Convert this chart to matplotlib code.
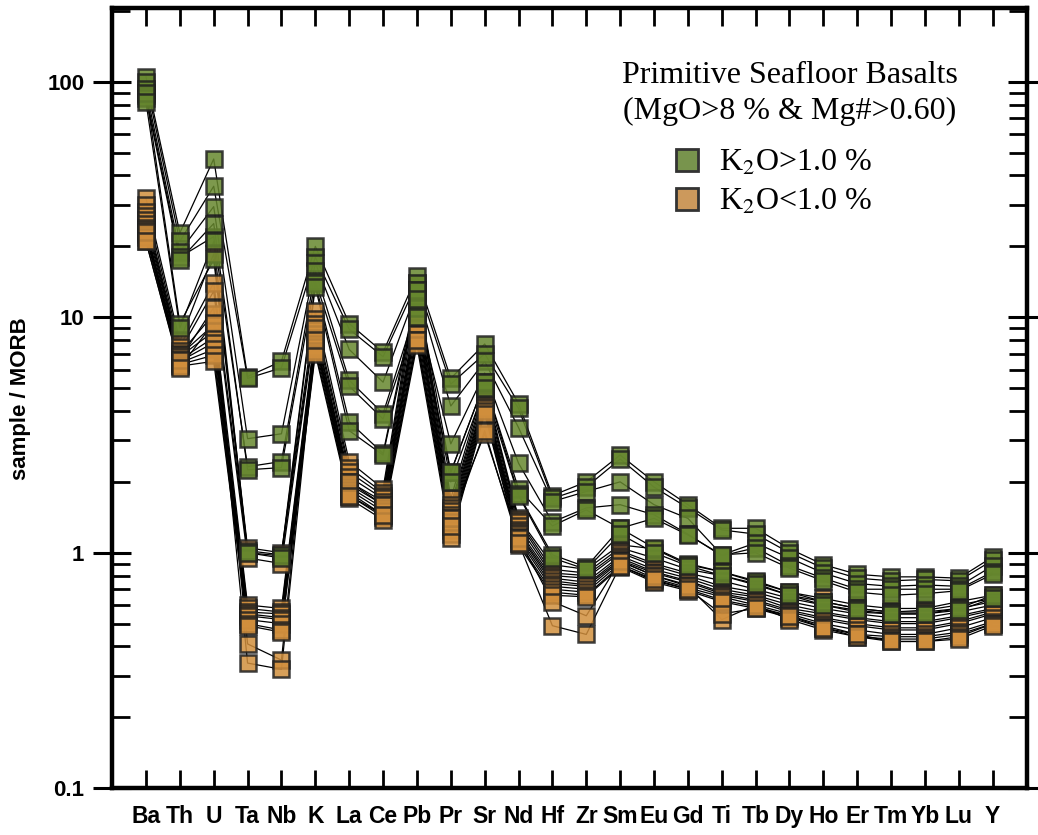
import matplotlib
matplotlib.use("Agg")
import matplotlib.pyplot as plt
from matplotlib.lines import Line2D
from matplotlib.ticker import LogLocator, NullFormatter, FixedLocator

plt.rcParams['mathtext.fontset'] = 'stix'

# element order for the spider diagram
elements = ["Ba", "Th", "U", "Ta", "Nb", "K", "La", "Ce", "Pb", "Pr", "Sr", "Nd", "Hf",
            "Zr", "Sm", "Eu", "Gd", "Ti", "Tb", "Dy", "Ho", "Er", "Tm", "Yb", "Lu", "Y"]

# K2O > 1.0 % samples (normalised to MORB)
high_k = [
    [105, 22.8, 47, 5.6, 6.5, 20, 9.4, 7.1, 15, 5.5, 7.7, 4.3, 1.75, 2.0, 2.6, 2.0, 1.6, 1.27, 1.27, 1.04, 0.89, 0.81, 0.79, 0.79, 0.78, 0.96],
    [100, 21, 36, 5.5, 6.1, 18, 8.9, 6.8, 14, 5.2, 7.0, 4.1, 1.7, 1.9, 2.5, 1.9, 1.55, 1.25, 1.2, 1.0, 0.86, 0.78, 0.76, 0.77, 0.76, 0.93],
    [93, 19, 29.5, 3.05, 3.2, 17, 7.3, 5.3, 13, 4.2, 6.5, 3.4, 1.65, 1.82, 2.0, 1.6, 1.4, 0.98, 1.1, 0.95, 0.82, 0.74, 0.72, 0.73, 0.72, 0.88],
    [88, 18, 22, 2.32, 2.44, 15.7, 5.4, 3.9, 11, 2.9, 5.8, 2.4, 1.35, 1.55, 1.6, 1.45, 1.2, 0.97, 1.05, 0.88, 0.78, 0.70, 0.70, 0.70, 0.70, 0.83],
    [85, 17.5, 25, 2.25, 2.3, 14.3, 5.1, 3.7, 10, 2.2, 5.3, 1.87, 1.3, 1.52, 1.27, 1.4, 1.19, 0.98, 1.0, 0.86, 0.76, 0.68, 0.66, 0.67, 0.69, 0.81],
    [90, 9.4, 17.6, 1.02, 0.98, 14, 3.6, 2.64, 13, 2.2, 5.3, 1.77, 0.98, 0.87, 1.27, 1.05, 0.9, 0.83, 0.76, 0.68, 0.62, 0.58, 0.56, 0.56, 0.58, 0.66],
    [82, 9.0, 21, 1.0, 0.95, 13.5, 3.3, 2.6, 12, 2.0, 5.0, 1.75, 0.95, 0.85, 1.2, 1.0, 0.88, 0.8, 0.74, 0.66, 0.6, 0.57, 0.55, 0.55, 0.57, 0.64],
]

# K2O < 1.0 % samples (normalised to MORB)
low_k = [
    [32, 7.9, 18.6, 1.05, 1.0, 10.6, 2.44, 1.87, 14, 1.7, 5.2, 1.4, 0.89, 0.85, 1.08, 1.04, 0.89, 0.83, 0.75, 0.68, 0.64, 0.60, 0.58, 0.58, 0.62, 0.66],
    [30, 7.5, 14, 1.0, 0.97, 9.8, 2.3, 1.8, 13, 1.6, 5.0, 1.38, 0.85, 0.82, 1.05, 0.95, 0.85, 0.80, 0.73, 0.66, 0.62, 0.58, 0.56, 0.57, 0.60, 0.64],
    [28, 7.2, 12.9, 0.95, 0.9, 9.4, 2.2, 1.75, 12, 1.55, 4.8, 1.35, 0.82, 0.80, 1.02, 0.9, 0.82, 0.76, 0.70, 0.64, 0.60, 0.56, 0.55, 0.55, 0.58, 0.62],
    [27, 7.0, 10.3, 0.6, 0.58, 8.8, 2.1, 1.7, 11, 1.5, 4.6, 1.3, 0.8, 0.78, 1.0, 0.88, 0.8, 0.72, 0.68, 0.62, 0.58, 0.55, 0.53, 0.53, 0.56, 0.60],
    [26, 6.9, 9.3, 0.58, 0.56, 8.5, 2.0, 1.65, 10.5, 1.45, 4.5, 1.25, 0.78, 0.75, 0.97, 0.85, 0.78, 0.70, 0.66, 0.60, 0.56, 0.53, 0.51, 0.51, 0.54, 0.58],
    [25, 6.8, 8.7, 0.56, 0.55, 8.2, 1.95, 1.6, 10, 1.4, 4.4, 1.22, 0.76, 0.73, 0.95, 0.83, 0.76, 0.68, 0.65, 0.58, 0.55, 0.52, 0.50, 0.50, 0.53, 0.57],
    [24, 6.6, 8.2, 0.55, 0.53, 8.0, 1.9, 1.55, 9.5, 1.35, 4.3, 1.2, 0.74, 0.72, 0.93, 0.82, 0.75, 0.67, 0.63, 0.57, 0.53, 0.50, 0.48, 0.48, 0.51, 0.56],
    [23.5, 6.5, 7.8, 0.54, 0.52, 7.8, 1.85, 1.5, 9.0, 1.3, 4.2, 1.17, 0.72, 0.70, 0.92, 0.8, 0.73, 0.66, 0.62, 0.56, 0.52, 0.49, 0.47, 0.47, 0.50, 0.55],
    [22.5, 6.4, 7.3, 0.52, 0.5, 7.5, 1.8, 1.45, 8.5, 1.25, 4.1, 1.14, 0.70, 0.68, 0.9, 0.78, 0.71, 0.65, 0.60, 0.55, 0.50, 0.47, 0.45, 0.45, 0.48, 0.53],
    [22, 6.3, 6.9, 0.5, 0.47, 7.2, 1.75, 1.42, 8.0, 1.2, 4.0, 1.1, 0.68, 0.66, 0.88, 0.76, 0.70, 0.63, 0.59, 0.54, 0.49, 0.45, 0.44, 0.44, 0.46, 0.51],
    [21, 6.2, 6.5, 0.49, 0.46, 7.0, 1.7, 1.38, 7.6, 1.15, 3.9, 1.08, 0.66, 0.65, 0.87, 0.75, 0.69, 0.62, 0.58, 0.53, 0.48, 0.44, 0.43, 0.43, 0.45, 0.50],
    [23, 6.6, 11, 0.41, 0.35, 9.0, 2.0, 1.6, 10.0, 1.4, 3.2, 1.15, 0.62, 0.54, 0.92, 0.80, 0.72, 0.52, 0.60, 0.52, 0.47, 0.44, 0.42, 0.42, 0.44, 0.50],
    [21, 6.1, 9.5, 0.34, 0.32, 8.0, 1.75, 1.45, 8.0, 1.3, 3.3, 1.1, 0.49, 0.45, 0.88, 0.77, 0.70, 0.55, 0.58, 0.54, 0.48, 0.45, 0.42, 0.42, 0.43, 0.49],
]

green = (0.40, 0.53, 0.18, 0.85)
orange = (0.82, 0.56, 0.24, 0.85)
edge = (0.12, 0.12, 0.12, 0.85)

fig = plt.figure(figsize=(10.38, 8.35), dpi=100)
ax = fig.add_axes([0.108, 0.056, 0.881, 0.934])

x = list(range(len(elements)))
for group, fc in [(low_k, orange), (high_k, green)]:
    for sample in group:
        ax.plot(x, sample, color="black", lw=0.9, zorder=2)
        ax.plot(x, sample, ls="none", marker="s", markersize=11.5,
                markerfacecolor=fc, markeredgecolor=edge, markeredgewidth=1.8, zorder=3)

ax.set_yscale("log")
ax.set_ylim(0.1, 205)
ax.set_xlim(-1, len(elements))

# ticks
ax.xaxis.set_major_locator(FixedLocator(x))
ax.set_xticklabels(elements, fontsize=16.5, fontweight="bold",
                   family=["Liberation Sans Narrow", "Liberation Sans"])
ax.yaxis.set_major_locator(FixedLocator([0.1, 1, 10, 100]))
ax.set_yticklabels(["0.1", "1", "10", "100"], fontsize=16, fontweight="bold",
                   family="Liberation Sans")
ax.yaxis.set_minor_locator(LogLocator(base=10, subs=range(2, 10)))
ax.yaxis.set_minor_formatter(NullFormatter())
ax.tick_params(axis="x", which="major", direction="in", length=13, width=2,
               top=True, bottom=True, pad=12)
ax.tick_params(axis="y", which="major", direction="inout", length=28, width=2.2,
               left=True, right=True, pad=6)
ax.tick_params(axis="y", which="minor", direction="in", length=13, width=2,
               left=True, right=True)
for s in ax.spines.values():
    s.set_linewidth(3.2)

ax.set_ylabel("sample / MORB", fontsize=16, fontweight="bold",
              family="Liberation Sans", labelpad=12)

# legend block
ax.text(0.741, 0.891, "Primitive Seafloor Basalts\n(MgO>8 % & Mg#>0.60)",
        transform=ax.transAxes, ha="center", va="center", fontsize=23,
        family="Liberation Serif", linespacing=1.32)
handles = [
    Line2D([], [], ls="none", marker="s", markersize=16, markerfacecolor=(0.47, 0.58, 0.30),
           markeredgecolor="#333333", markeredgewidth=2, label=r"K$_2$O>1.0 %"),
    Line2D([], [], ls="none", marker="s", markersize=16, markerfacecolor=(0.80, 0.60, 0.36),
           markeredgecolor="#333333", markeredgewidth=2, label=r"K$_2$O<1.0 %"),
]
ax.legend(handles=handles, loc="center left", bbox_to_anchor=(0.613, 0.776), frameon=False,
          prop={"family": "Liberation Serif", "size": 23}, handlelength=0.9,
          handletextpad=0.55, labelspacing=0.3, borderpad=0, borderaxespad=0)

fig.savefig("out.png", dpi=100)
